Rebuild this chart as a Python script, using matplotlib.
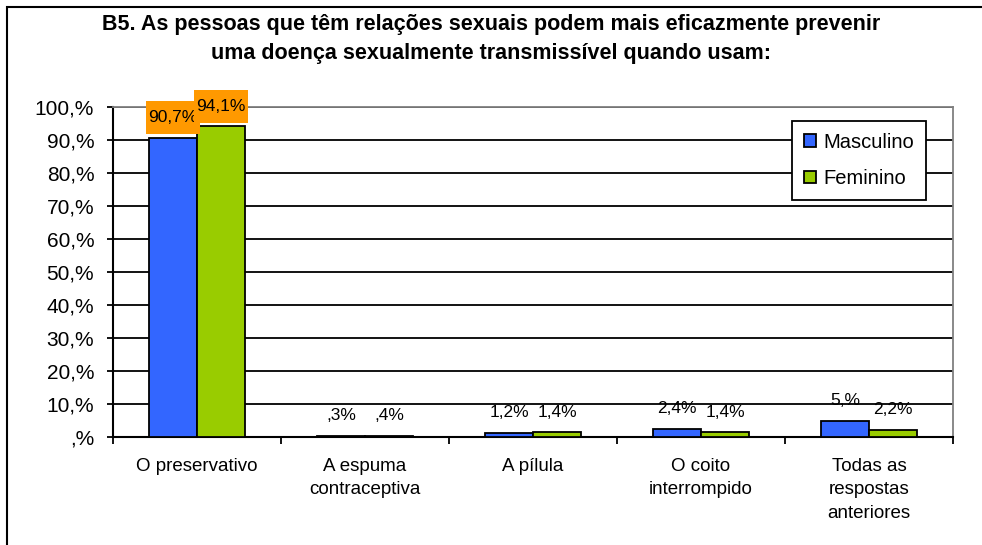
import numpy as np
from matplotlib import pyplot as plt
from matplotlib.patches import Rectangle
from matplotlib.path import Path

plt.rcParams['font.family'] = ['Liberation Sans', 'DejaVu Sans']

title = ("B5. As pessoas que têm relações sexuais podem mais eficazmente prevenir\n"
         "uma doença sexualmente transmissível quando usam:")
categories = ["O preservativo", "A espuma\ncontraceptiva", "A pílula",
              "O coito\ninterrompido", "Todas as\nrespostas\nanteriores"]
masculino = [90.7, 0.3, 1.2, 2.4, 5.0]
feminino = [94.1, 0.4, 1.4, 1.4, 2.2]
y_ticks = [0, 10, 20, 30, 40, 50, 60, 70, 80, 90, 100]

BLUE = '#3366FF'
GREEN = '#99CC00'
ORANGE = '#FF9900'


def fmt(v):
    # excel style "#,#%" -> 5.0 gives "5,%", 0.3 gives ",3%"
    whole = int(round(v * 10)) // 10
    dec = int(round(v * 10)) % 10
    return (str(whole) if whole else "") + "," + (str(dec) if dec else "") + "%"


def tall_box(x0, y0, width, height, mutation_size):
    # label box: little side padding, more on top and bottom
    px, py = 0.12 * mutation_size, 0.5 * mutation_size
    x0, y0, x1, y1 = x0 - px, y0 - py, x0 + width + px, y0 + height + py
    return Path([(x0, y0), (x1, y0), (x1, y1), (x0, y1), (x0, y0)], closed=True)


fig = plt.figure(figsize=(9.82, 5.45), dpi=100)
ax = fig.add_axes([113 / 982, 1 - 437 / 545, 840 / 982, 330 / 545])

# outer frame of the chart (cut off on the right and bottom)
fig.patches.append(Rectangle((7 / 982, -0.1), 1.2, 1.1 - 7 / 545, transform=fig.transFigure,
                             fill=False, edgecolor='black', linewidth=1.5))

x = np.arange(len(categories))
w = 1 / 3.5
bm = ax.bar(x - w / 2, masculino, w, color=BLUE, edgecolor='black', linewidth=1.3,
            label='Masculino', zorder=3)
bf = ax.bar(x + w / 2, feminino, w, color=GREEN, edgecolor='black', linewidth=1.3,
            label='Feminino', zorder=3)

for bars, vals in ((bm, masculino), (bf, feminino)):
    for b, v in zip(bars, vals):
        kw = {}
        if v > 50:
            kw['bbox'] = dict(boxstyle=tall_box, facecolor=ORANGE, edgecolor='none')
        ax.annotate(fmt(v), (b.get_x() + b.get_width() / 2, v), xytext=(0, 14.5),
                    textcoords='offset points', ha='center', va='center',
                    fontsize=12.5, zorder=5, **kw)

ax.set_xlim(-0.5, len(categories) - 0.5)
ax.set_ylim(0, 100)
ax.set_yticks(y_ticks)
ax.set_yticklabels([fmt(t) for t in y_ticks])
ax.yaxis.grid(True, color='black', linewidth=1.3, zorder=0)
ax.set_axisbelow(True)

ax.set_xticks(x)
ax.set_xticklabels(categories, linespacing=1.5)
ax.set_xticks(np.arange(len(categories) + 1) - 0.5, minor=True)
ax.tick_params(axis='x', which='major', length=0, pad=15, labelsize=13.5)
ax.tick_params(axis='x', which='minor', length=5, width=1.3, direction='out')
ax.tick_params(axis='y', length=4.5, width=1.3, direction='out', pad=9, labelsize=15)

for s in ('left', 'bottom'):
    ax.spines[s].set_color('black')
    ax.spines[s].set_linewidth(1.5)
for s in ('top', 'right'):
    ax.spines[s].set_color('#808080')
    ax.spines[s].set_linewidth(1.3)

leg = ax.legend(loc='upper left', bbox_to_anchor=(0.808, 0.958), fontsize=14.5,
                frameon=True, fancybox=False, edgecolor='black', framealpha=1,
                handlelength=0.6, handleheight=0.6, handletextpad=0.35,
                borderpad=0.6, labelspacing=0.85, borderaxespad=0)
leg.get_frame().set_linewidth(1.3)

fig.text(0.5, 1 - 39 / 545, title, ha='center', va='center', fontsize=15.5,
         fontweight='bold', linespacing=1.55)

fig.savefig('out.png', dpi=100)
